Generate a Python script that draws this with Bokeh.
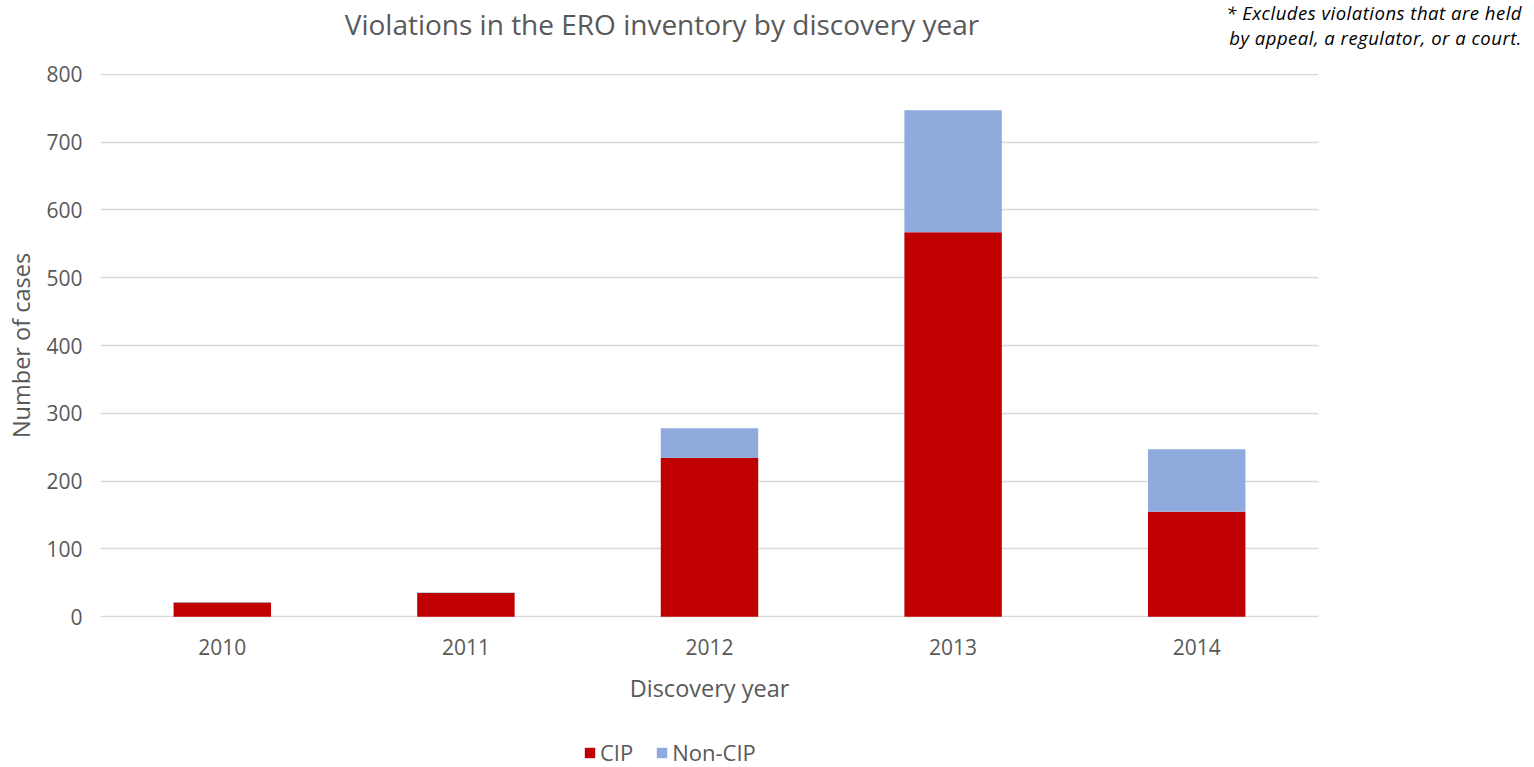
from bokeh.plotting import figure
from bokeh.models import ColumnDataSource, Legend, LegendItem, FactorRange, Range1d, Div
from bokeh.layouts import column
from bokeh.embed import file_html
from bokeh.resources import INLINE

years = ["2010", "2011", "2012", "2013", "2014"]
cip = [21, 35, 234, 567, 155]
non_cip = [1, 1, 44, 180, 92]
series = ["CIP", "Non-CIP"]
colors = ["#C00000", "#8FAADC"]
y_ticks = [0, 100, 200, 300, 400, 500, 600, 700, 800]
title_text = "Violations in the ERO inventory by discovery year"
note_lines = ["* Excludes violations that are held", "by appeal, a regulator, or a court."]

FONT = "Open Sans"
GRAY = "#595959"
W = 1518

note_style = ("position:absolute;right:-4px;text-align:right;font-style:italic;font-size:18.5px;"
              "letter-spacing:0.5px;line-height:19px;color:#000000;white-space:nowrap;")
header_html = (
    '<div style="position:relative;width:1518px;height:50px;font-family:\'Open Sans\';">'
    '<div style="position:absolute;left:9px;top:6px;width:1306px;text-align:center;'
    'font-size:28px;line-height:36px;color:%s;white-space:nowrap;">%s</div>'
    '<div style="%stop:3px;">%s</div>'
    '<div style="%stop:28px;">%s</div>'
    '</div>' % (GRAY, title_text, note_style, note_lines[0], note_style, note_lines[1])
)
header = Div(text=header_html, width=W, height=50, margin=0)

src = ColumnDataSource(data=dict(years=years, CIP=cip, **{"Non-CIP": non_cip}))

p = figure(width=W, height=665, x_range=FactorRange(*years, range_padding=0),
           y_range=Range1d(-1, 801), output_backend="svg", toolbar_location=None, title=None,
           min_border_left=100, min_border_right=200, min_border_top=23, min_border_bottom=98)
p.margin = 0
p.outline_line_color = None
p.background_fill_color = "white"
p.border_fill_color = "white"

r = p.vbar_stack(series, x="years", width=0.4, color=colors, source=src, line_color=None)

p.xgrid.grid_line_color = None
p.ygrid.grid_line_color = "#D9D9D9"
p.ygrid.grid_line_width = 1.3
p.yaxis.ticker = y_ticks
for ax in (p.xaxis[0], p.yaxis[0]):
    ax.axis_line_color = None
    ax.major_tick_line_color = None
    ax.minor_tick_line_color = None
    ax.major_tick_in = 0
    ax.major_tick_out = 0
    ax.major_label_text_font = FONT
    ax.major_label_text_font_size = "21px"
    ax.major_label_text_color = GRAY
    ax.axis_label_text_font = FONT
    ax.axis_label_text_font_size = "23.5px"
    ax.axis_label_text_color = GRAY
    ax.axis_label_text_font_style = "normal"
p.xaxis.axis_label = "Discovery year"
p.yaxis.axis_label = "Number of cases"
p.xaxis.major_label_standoff = 21
p.xaxis.axis_label_standoff = 14
p.yaxis.major_label_standoff = 18
p.yaxis.axis_label_standoff = 6

# legend strip: the same stacked series as hidden renderers, so only the legend shows
lg = figure(width=W, height=52, x_range=FactorRange(*years), y_range=Range1d(-3000, -2000),
            x_axis_type=None, y_axis_type=None, output_backend="svg", toolbar_location=None,
            title=None, min_border=0)
lg.margin = 0
lg.outline_line_color = None
lg.xgrid.visible = False
lg.ygrid.visible = False
lr = lg.vbar_stack(series, x="years", width=0.4, color=colors, source=src, line_color=None)
for rr in lr:
    rr.visible = False
legend = Legend(items=[LegendItem(label=s, renderers=[rr]) for s, rr in zip(series, lr)],
                orientation="horizontal", location=(483, 0), label_text_font=FONT,
                label_text_font_size="22px", label_text_color=GRAY, glyph_width=13, glyph_height=13,
                spacing=22, label_standoff=4, padding=0, margin=0,
                border_line_color=None, background_fill_alpha=0)
lg.add_layout(legend, "center")

layout = column(header, p, lg, spacing=0)
open("out.html", "w").write(file_html(layout, INLINE))
